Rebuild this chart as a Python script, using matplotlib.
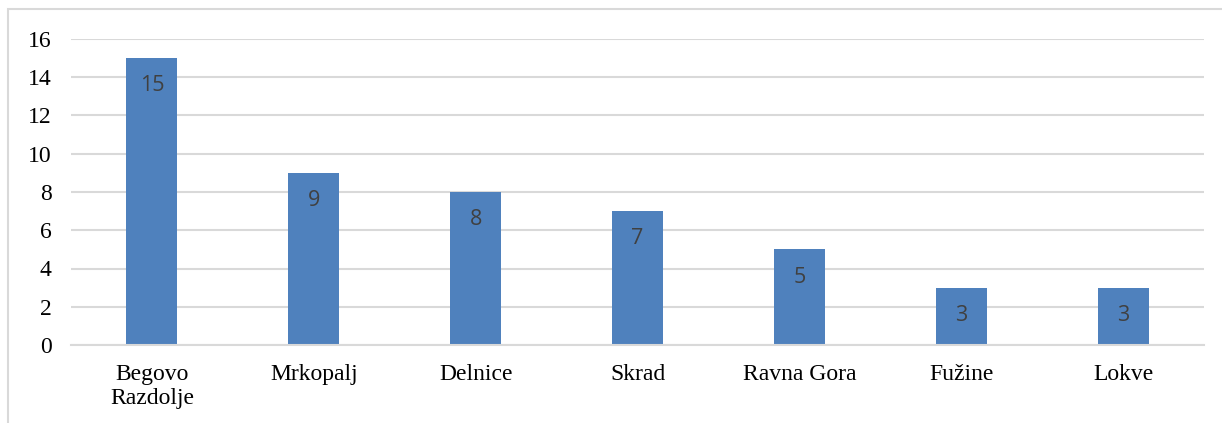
import matplotlib
matplotlib.use("Agg")
import matplotlib.pyplot as plt
from matplotlib.patches import Rectangle

categories = ["Begovo\nRazdolje", "Mrkopalj", "Delnice", "Skrad", "Ravna Gora", "Fužine", "Lokve"]
values = [15, 9, 8, 7, 5, 3, 3]
yticks = [0, 2, 4, 6, 8, 10, 12, 14, 16]

fig = plt.figure(figsize=(12.22, 4.23), dpi=100)
ax = fig.add_axes([71/1222, 1-345/423, (1204-71)/1222, (345-39)/423])

x = list(range(len(categories)))
bars = ax.bar(x, values, width=0.315, color="#4F81BD", zorder=3)
for xi, v in zip(x, values):
    ax.annotate(str(v), (xi, v), xytext=(0, -20), textcoords="offset points",
                ha="center", va="center", fontsize=15.5, color="#404040",
                family=["Open Sans", "DejaVu Sans"], zorder=4)

ax.set_xlim(-0.5, len(categories) - 0.5)
ax.set_ylim(0, 16)
ax.set_yticks(yticks)
ax.set_yticklabels([str(t) for t in yticks], family="Liberation Serif", fontsize=17)
ax.set_xticks(x)
ax.set_xticklabels(categories, family="Liberation Serif", fontsize=17, linespacing=1.15)
ax.tick_params(axis="both", length=0)
ax.tick_params(axis="x", pad=14)
ax.tick_params(axis="y", pad=14)
ax.grid(axis="y", color="#D9D9D9", linewidth=1.5, zorder=0)
for s in ["top", "right", "left"]:
    ax.spines[s].set_visible(False)
ax.spines["bottom"].set_color("#D9D9D9")
ax.spines["bottom"].set_linewidth(1.5)
ax.spines["bottom"].set_zorder(3)

# outer chart border
fig.patches.append(Rectangle((8/1222, -0.1), 1.2, 1 - 9.5/423 + 0.1,
                             transform=fig.transFigure, fill=False,
                             edgecolor="#D9D9D9", linewidth=1.5))

fig.savefig("out.png", dpi=100)
